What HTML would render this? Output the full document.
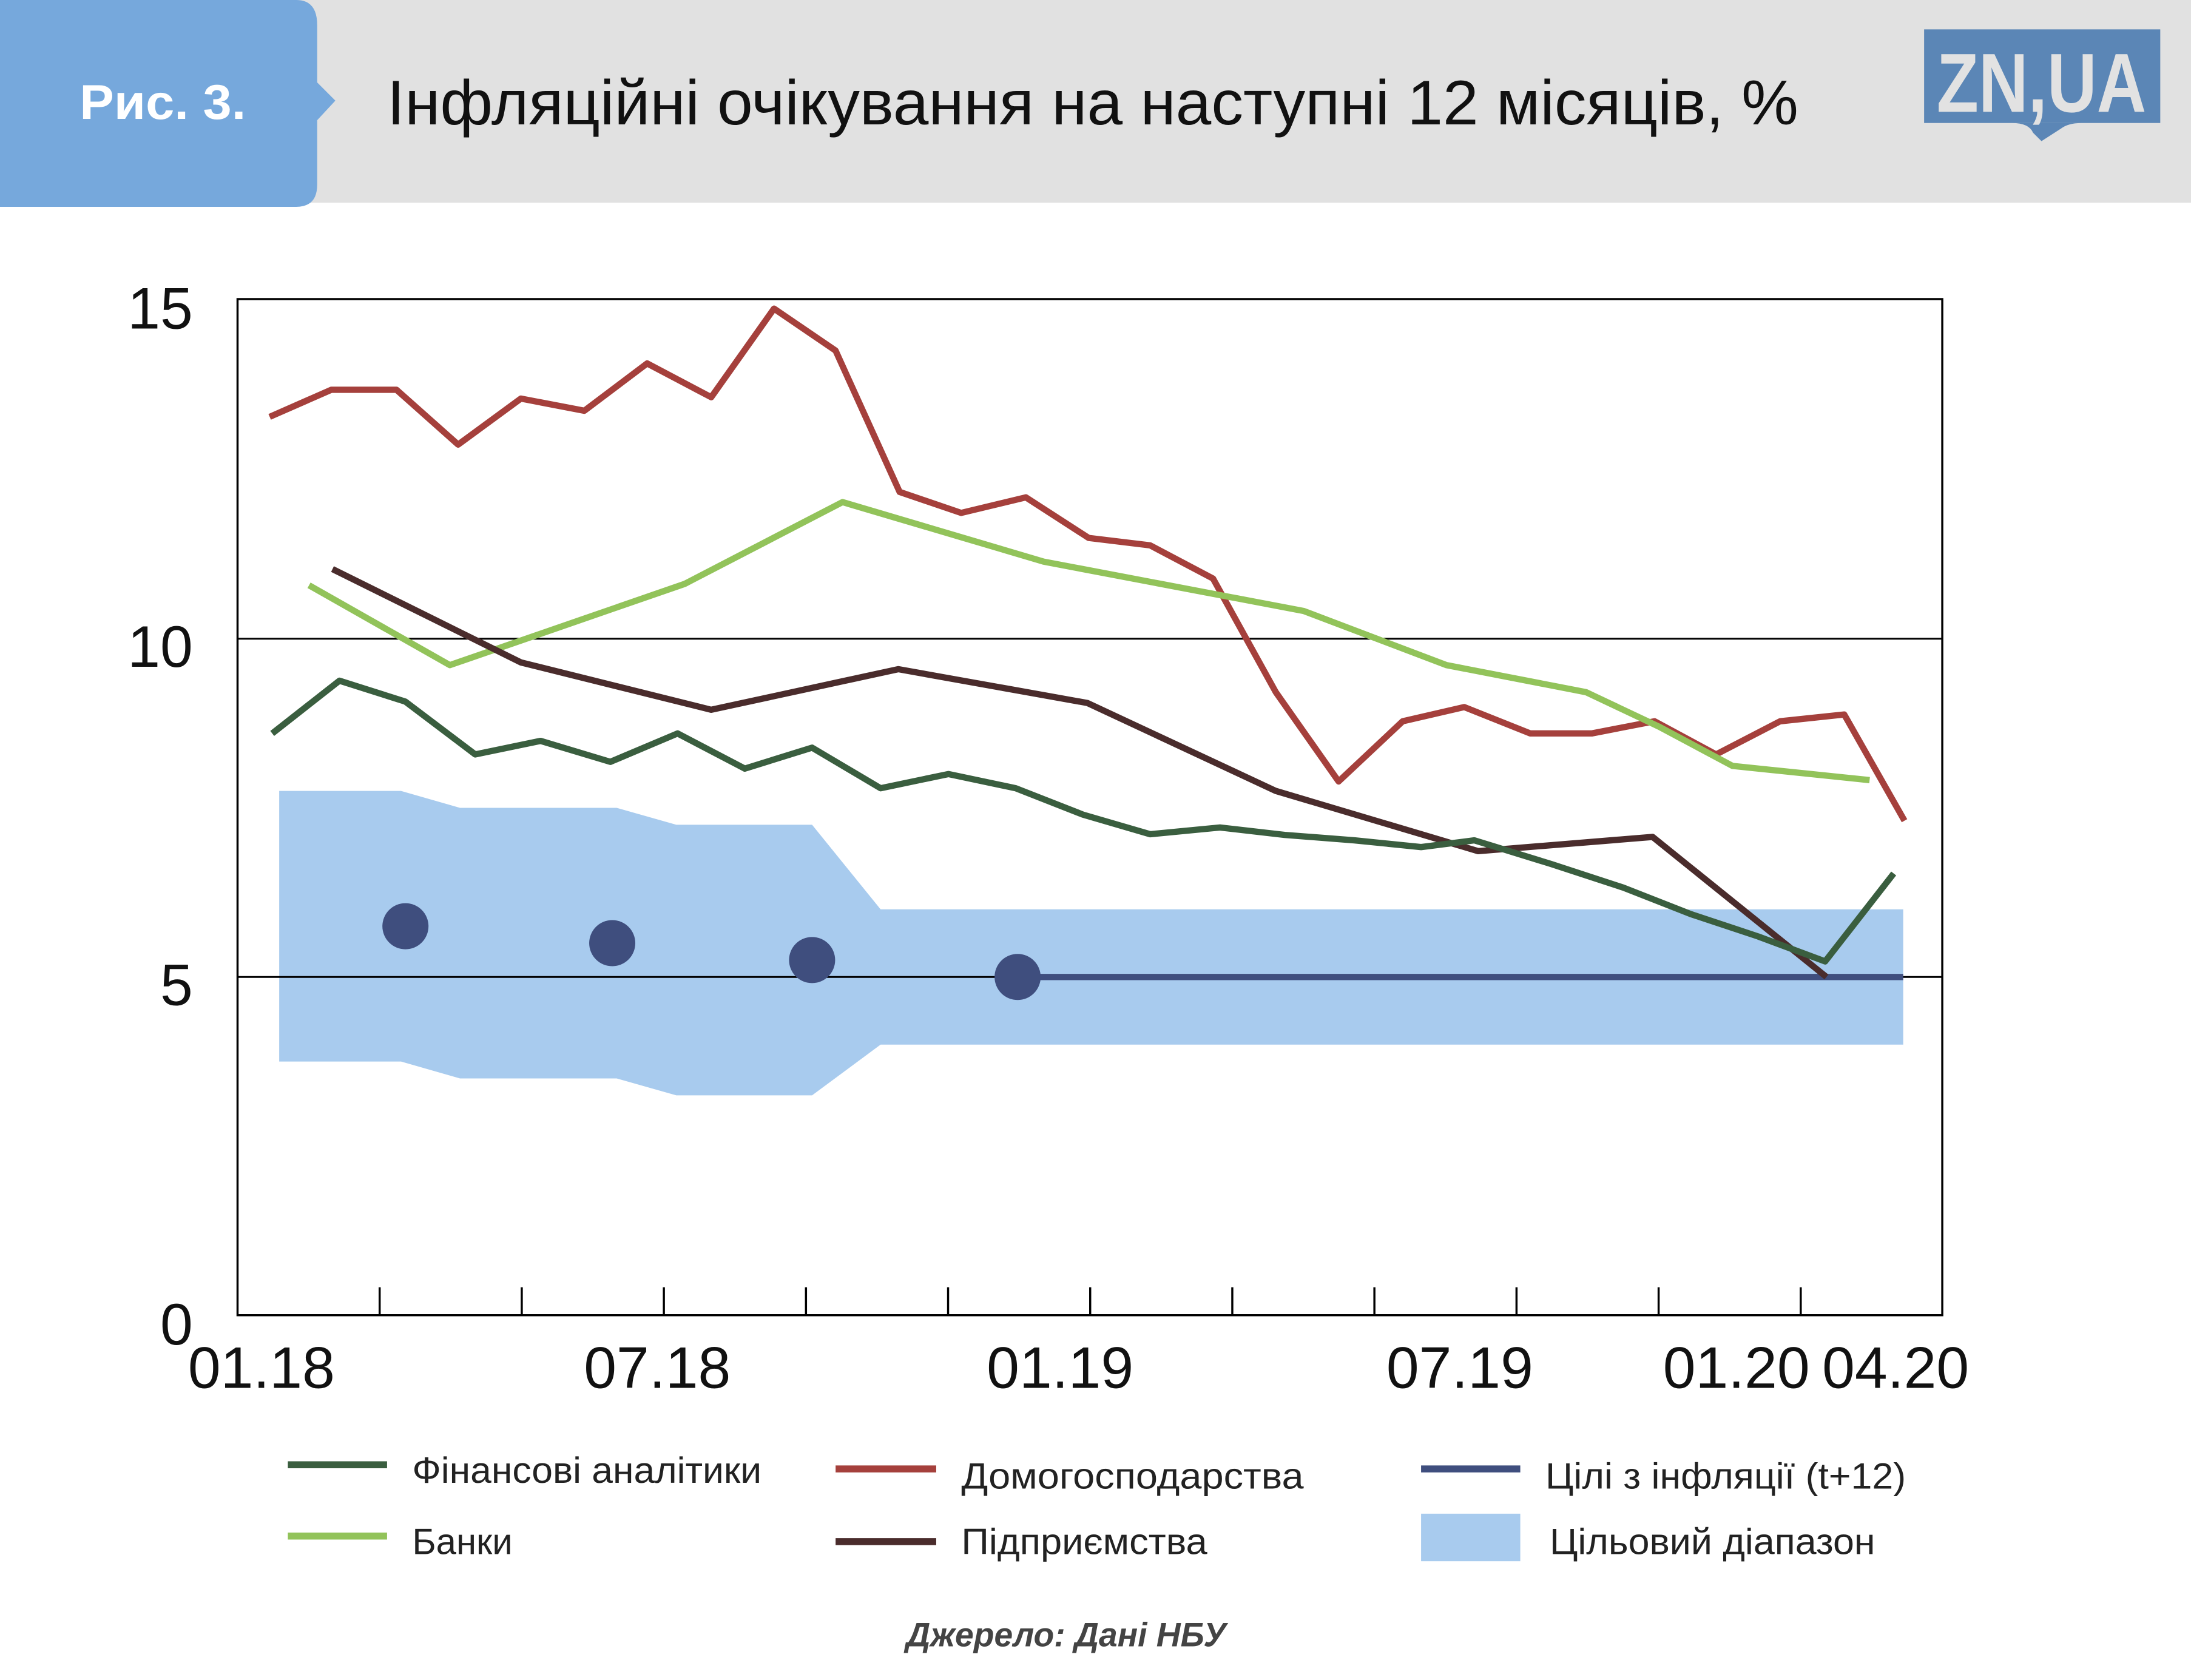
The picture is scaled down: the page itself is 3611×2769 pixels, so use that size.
<!DOCTYPE html>
<html><head><meta charset="utf-8"><style>
html,body{margin:0;padding:0;background:#fff;}
svg{display:block;font-family:"Liberation Sans","DejaVu Sans",sans-serif;}
</style></head><body>
<svg id="chart" width="3611" height="2769" viewBox="0 0 1568 1202" preserveAspectRatio="none" xmlns="http://www.w3.org/2000/svg">
<rect x="0" y="0" width="1568" height="145" fill="#e1e1e1"/>
<path d="M0 0 H212 Q227 0 227 18 V59 L240 72 L227 86 V132 Q227 148 212 148 H0 Z" fill="#76a8dc"/>
<text x="57" y="85" font-size="35" font-weight="bold" fill="#fff" textLength="119" lengthAdjust="spacingAndGlyphs">Рис. 3.</text>
<text x="277" y="89" font-size="45" fill="#111" textLength="1010" lengthAdjust="spacingAndGlyphs">Інфляційні очікування на наступні 12 місяців, %</text>
<g>
<rect x="1377" y="21" width="169" height="67" fill="#5b86b6"/>
<path d="M1440 88 Q1452 88 1455 95 L1461 101 L1475 92 Q1480 88 1490 88 Z" fill="#5b86b6"/>
<text x="1461" y="80" font-size="60" font-weight="bold" fill="#e2e2e2" text-anchor="middle" textLength="150" lengthAdjust="spacingAndGlyphs">ZN,UA</text>
</g>
<g id="plot"></g>
<g>
<line x1="206" y1="1048" x2="277" y2="1048" stroke="#3a5e3f" stroke-width="5"/>
<text x="295" y="1061" font-size="26" fill="#222" textLength="250" lengthAdjust="spacingAndGlyphs">Фінансові аналітики</text>
<line x1="598" y1="1051" x2="670" y2="1051" stroke="#a5403c" stroke-width="5"/>
<text x="688" y="1065" font-size="26" fill="#222" textLength="245" lengthAdjust="spacingAndGlyphs">Домогосподарства</text>
<line x1="1017" y1="1051" x2="1088" y2="1051" stroke="#3f4e7e" stroke-width="5"/>
<text x="1106" y="1065" font-size="26" fill="#222" textLength="258" lengthAdjust="spacingAndGlyphs">Цілі з інфляції (t+12)</text>
<line x1="206" y1="1099" x2="277" y2="1099" stroke="#92c35a" stroke-width="5"/>
<text x="295" y="1112" font-size="26" fill="#222">Банки</text>
<line x1="598" y1="1103" x2="670" y2="1103" stroke="#4a2c2c" stroke-width="5"/>
<text x="688" y="1112" font-size="26" fill="#222" textLength="176" lengthAdjust="spacingAndGlyphs">Підприємства</text>
<rect x="1017" y="1083" width="71" height="34" fill="#a8cbee"/>
<text x="1109" y="1112" font-size="26" fill="#222" textLength="233" lengthAdjust="spacingAndGlyphs">Цільовий діапазон</text>
</g>
<text x="763" y="1178" font-size="24" font-weight="bold" font-style="italic" fill="#444" text-anchor="middle">Джерело: Дані НБУ</text>
</svg>
<script>
const yTicks=[0,5,10,15];
const xLabels=["01.18","07.18","01.19","07.19","01.20","04.20"];
const xLabelMonths=[-0.13,6.11,12.46,18.76,23.12,25.63];
const householdT=[0,0.97,2.0,2.97,3.96,4.96,5.95,6.96,7.95,8.92,9.93,10.9,11.92,12.91,13.88,14.87,15.86,16.85,17.86,18.83,19.87,20.84,21.83,22.8,23.81,24.82,25.77];
const householdV=[13.28,13.68,13.68,12.87,13.55,13.37,14.07,13.57,14.88,14.26,12.17,11.86,12.09,11.49,11.38,10.89,9.21,7.89,8.78,8.99,8.6,8.6,8.78,8.29,8.78,8.88,7.31];
const analystT=[0.04,1.1,2.14,3.24,4.27,5.37,6.43,7.49,8.55,9.63,10.7,11.76,12.82,13.88,14.98,16.0,17.1,18.15,18.99,20.2,21.34,22.4,23.46,24.52,25.6];
const analystV=[8.6,9.38,9.07,8.29,8.49,8.18,8.6,8.08,8.39,7.79,8.0,7.79,7.4,7.11,7.21,7.1,7.02,6.92,7.02,6.67,6.32,5.93,5.6,5.23,6.53];
const bankT=[0.62,2.84,6.54,9.03,12.2,16.3,18.55,20.75,21.9,23.06,25.22];
const bankV=[10.79,9.61,10.81,12.02,11.14,10.41,9.61,9.21,8.7,8.12,7.91];
const enterpriseT=[0.99,3.96,6.96,9.91,12.89,15.86,19.05,21.8,24.54];
const enterpriseV=[11.03,9.65,8.95,9.55,9.05,7.75,6.86,7.07,5.0];
const targetDotT=[2.14,5.4,8.55,11.79];
const targetDotV=[5.75,5.5,5.25,5.0];
const targetLineT=[11.79,25.75];
const targetLineV=[5.0,5.0];
const bandStartT=[0.15,3.0,6.41,9.63];
const bandEndT=[2.07,5.47,8.55,25.75];
const bandHigh=[7.75,7.5,7.25,6.0];
const bandLow=[3.75,3.5,3.25,4.0];

const PL=170,PR=1390,PT=214,PB=941;
const X=t=>193+t*45.4;
const Y=v=>PB-v*48.4;
const NS="http://www.w3.org/2000/svg";
const plotG=document.getElementById('plot');
function mk(tag,attrs){const e=document.createElementNS(NS,tag);for(const k in attrs)e.setAttribute(k,attrs[k]);plotG.appendChild(e);return e;}

const bandTop=[],bandBot=[];
for(let i=0;i<bandStartT.length;i++){bandTop.push(X(bandStartT[i])+','+Y(bandHigh[i]));bandTop.push(X(bandEndT[i])+','+Y(bandHigh[i]));bandBot.push(X(bandStartT[i])+','+Y(bandLow[i]));bandBot.push(X(bandEndT[i])+','+Y(bandLow[i]));}
const band=mk('polygon',{points:bandTop.concat(bandBot.reverse()).join(' '),fill:'#a8cbee'});



yTicks.forEach(v=>{if(v>0&&v<15){const l=mk('line',{x1:PL,x2:PR,y1:Y(v),y2:Y(v),stroke:'#000','stroke-width':1.3});

}});

function series(T,V,color,name){
  const p=mk('polyline',{points:T.map((t,i)=>X(t)+','+Y(V[i])).join(' '),fill:'none',stroke:color,'stroke-width':4.5,'stroke-linejoin':'round'});
  
  
}
series(targetLineT,targetLineV,'#3f4e7e','target-line');
series(householdT,householdV,'#a5403c','households-line');
series(bankT,bankV,'#92c35a','banks-line');
series(enterpriseT,enterpriseV,'#4a2c2c','enterprises-line');
series(analystT,analystV,'#3a5e3f','analysts-line');
targetDotT.forEach((t,i)=>{const c=mk('circle',{cx:X(t),cy:Y(targetDotV[i]),r:16.5,fill:'#3f4e7e'});

});

const fr=mk('rect',{x:PL,y:PT,width:PR-PL,height:PB-PT,fill:'none',stroke:'#000','stroke-width':1.5});


for(let k=1;k<=11;k++){const x=PL+k*101.7;const tk=mk('line',{x1:x,x2:x,y1:PB-20,y2:PB,stroke:'#000','stroke-width':1.5});

}
yTicks.forEach(v=>{const t=mk('text',{x:138,y:Y(v)+(v===0?21:20),'font-size':42,'text-anchor':'end',fill:'#111'});t.textContent=v;

});
xLabels.forEach((s,i)=>{const t=mk('text',{x:X(xLabelMonths[i]),y:993,'font-size':42,'text-anchor':'middle',fill:'#111'});t.textContent=s;

});
</script>
</body></html>
